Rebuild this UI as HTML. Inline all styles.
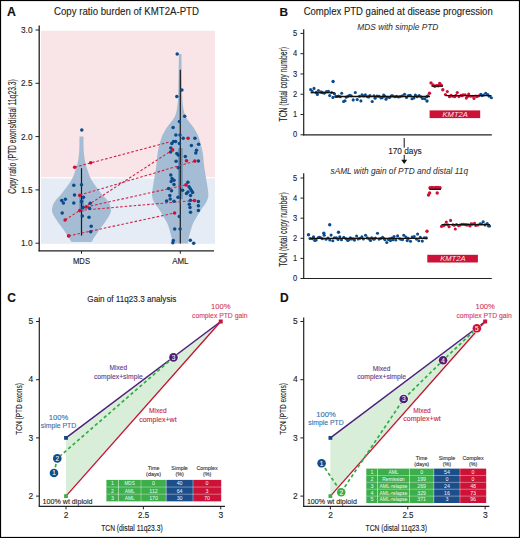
<!DOCTYPE html>
<html><head><meta charset="utf-8"><style>
html,body{margin:0;padding:0;background:#fff;}
svg{display:block;font-family:"Liberation Sans", sans-serif;}
</style></head><body>
<svg width="520" height="538" viewBox="0 0 520 538">
<rect x="0" y="0" width="520" height="538" fill="#fff"/>
<text x="7.0" y="16.3" font-size="12.3" text-anchor="start" fill="#111" font-weight="bold" font-style="normal" stroke="#111" stroke-width="0.12" >A</text>
<text x="126.5" y="14.7" font-size="11.5" text-anchor="middle" fill="#222" font-weight="normal" font-style="normal" textLength="145" lengthAdjust="spacingAndGlyphs" stroke="#222" stroke-width="0.12" >Copy ratio burden of KMT2A-PTD</text>
<rect x="41" y="30.8" width="174" height="146.4" fill="#f9e4e7"/>
<rect x="41" y="178.4" width="174" height="65.4" fill="#e5ecf5"/>
<line x1="39.2" y1="25.5" x2="39.2" y2="251.3" stroke="#222" stroke-width="1.3" />
<line x1="38.5" y1="250.8" x2="214" y2="250.8" stroke="#222" stroke-width="1.3" />
<line x1="35.5" y1="30.0" x2="39.2" y2="30.0" stroke="#222" stroke-width="1" />
<text x="32.5" y="32.9" font-size="8.2" text-anchor="end" fill="#222" font-weight="normal" font-style="normal" textLength="11.5" lengthAdjust="spacingAndGlyphs" stroke="#222" stroke-width="0.12" >3.0</text>
<line x1="35.5" y1="83.3" x2="39.2" y2="83.3" stroke="#222" stroke-width="1" />
<text x="32.5" y="86.2" font-size="8.2" text-anchor="end" fill="#222" font-weight="normal" font-style="normal" textLength="11.5" lengthAdjust="spacingAndGlyphs" stroke="#222" stroke-width="0.12" >2.5</text>
<line x1="35.5" y1="136.6" x2="39.2" y2="136.6" stroke="#222" stroke-width="1" />
<text x="32.5" y="139.5" font-size="8.2" text-anchor="end" fill="#222" font-weight="normal" font-style="normal" textLength="11.5" lengthAdjust="spacingAndGlyphs" stroke="#222" stroke-width="0.12" >2.0</text>
<line x1="35.5" y1="189.89999999999998" x2="39.2" y2="189.89999999999998" stroke="#222" stroke-width="1" />
<text x="32.5" y="192.79999999999998" font-size="8.2" text-anchor="end" fill="#222" font-weight="normal" font-style="normal" textLength="11.5" lengthAdjust="spacingAndGlyphs" stroke="#222" stroke-width="0.12" >1.5</text>
<line x1="35.5" y1="243.2" x2="39.2" y2="243.2" stroke="#222" stroke-width="1" />
<text x="32.5" y="246.1" font-size="8.2" text-anchor="end" fill="#222" font-weight="normal" font-style="normal" textLength="11.5" lengthAdjust="spacingAndGlyphs" stroke="#222" stroke-width="0.12" >1.0</text>
<line x1="81.5" y1="250.8" x2="81.5" y2="253.8" stroke="#222" stroke-width="1" />
<text x="81.5" y="263.6" font-size="8.4" text-anchor="middle" fill="#222" font-weight="normal" font-style="normal" textLength="17" lengthAdjust="spacingAndGlyphs" stroke="#222" stroke-width="0.12" >MDS</text>
<line x1="180.3" y1="250.8" x2="180.3" y2="253.8" stroke="#222" stroke-width="1" />
<text x="180.3" y="263.6" font-size="8.4" text-anchor="middle" fill="#222" font-weight="normal" font-style="normal" textLength="16.3" lengthAdjust="spacingAndGlyphs" stroke="#222" stroke-width="0.12" >AML</text>
<text transform="translate(15.9,136.4) rotate(-90)" x="0" y="0" font-size="10.2" text-anchor="middle" fill="#222" textLength="114.5" lengthAdjust="spacingAndGlyphs" stroke="#222" stroke-width="0.12">Copy ratio (PTD exons/distal 11q23.3)</text>
<path d="M 79.50 136.40 C 79.47 138.67 79.55 145.90 79.30 150.00 C 79.05 154.10 78.63 157.67 78.00 161.00 C 77.37 164.33 76.58 166.83 75.50 170.00 C 74.42 173.17 73.67 176.25 71.50 180.00 C 69.33 183.75 65.33 188.83 62.50 192.50 C 59.67 196.17 56.25 199.18 54.50 202.00 C 52.75 204.82 52.17 207.23 52.00 209.40 C 51.83 211.57 52.58 213.00 53.50 215.00 C 54.42 217.00 55.67 218.73 57.50 221.40 C 59.33 224.07 62.17 227.57 64.50 231.00 C 66.83 234.43 70.33 240.17 71.50 242.00 L 91.50 242.00 C 92.67 240.17 96.17 234.43 98.50 231.00 C 100.83 227.57 103.67 224.07 105.50 221.40 C 107.33 218.73 108.58 217.00 109.50 215.00 C 110.42 213.00 111.17 211.57 111.00 209.40 C 110.83 207.23 110.25 204.82 108.50 202.00 C 106.75 199.18 103.33 196.17 100.50 192.50 C 97.67 188.83 93.67 183.75 91.50 180.00 C 89.33 176.25 88.58 173.17 87.50 170.00 C 86.42 166.83 85.63 164.33 85.00 161.00 C 84.37 157.67 83.95 154.10 83.70 150.00 C 83.45 145.90 83.53 138.67 83.50 136.40 Z" fill="#a4bdd4"/>
<path d="M 179.00 54.00 C 178.95 56.67 178.83 63.00 178.70 70.00 C 178.57 77.00 178.42 90.00 178.20 96.00 C 177.98 102.00 177.80 103.00 177.40 106.00 C 177.00 109.00 176.58 111.67 175.80 114.00 C 175.02 116.33 173.88 118.17 172.70 120.00 C 171.52 121.83 170.03 123.17 168.70 125.00 C 167.37 126.83 165.95 128.75 164.70 131.00 C 163.45 133.25 162.35 135.00 161.20 138.50 C 160.05 142.00 158.60 147.58 157.80 152.00 C 157.00 156.42 157.00 160.50 156.40 165.00 C 155.80 169.50 154.83 175.00 154.20 179.00 C 153.57 183.00 152.93 186.05 152.60 189.00 C 152.27 191.95 151.82 194.28 152.20 196.70 C 152.58 199.12 153.65 201.25 154.90 203.50 C 156.15 205.75 158.23 207.97 159.70 210.20 C 161.17 212.43 162.42 214.67 163.70 216.90 C 164.98 219.13 166.40 221.35 167.40 223.60 C 168.40 225.85 169.02 228.15 169.70 230.40 C 170.38 232.65 171.03 234.93 171.50 237.10 C 171.97 239.27 172.33 242.35 172.50 243.40 L 187.90 243.40 C 188.07 242.35 188.43 239.27 188.90 237.10 C 189.37 234.93 190.02 232.65 190.70 230.40 C 191.38 228.15 192.00 225.85 193.00 223.60 C 194.00 221.35 195.42 219.13 196.70 216.90 C 197.98 214.67 199.23 212.43 200.70 210.20 C 202.17 207.97 204.25 205.75 205.50 203.50 C 206.75 201.25 207.82 199.12 208.20 196.70 C 208.58 194.28 208.13 191.95 207.80 189.00 C 207.47 186.05 206.83 183.00 206.20 179.00 C 205.57 175.00 204.60 169.50 204.00 165.00 C 203.40 160.50 203.40 156.42 202.60 152.00 C 201.80 147.58 200.35 142.00 199.20 138.50 C 198.05 135.00 196.95 133.25 195.70 131.00 C 194.45 128.75 193.03 126.83 191.70 125.00 C 190.37 123.17 188.88 121.83 187.70 120.00 C 186.52 118.17 185.38 116.33 184.60 114.00 C 183.82 111.67 183.40 109.00 183.00 106.00 C 182.60 103.00 182.42 102.00 182.20 96.00 C 181.98 90.00 181.83 77.00 181.70 70.00 C 181.57 63.00 181.45 56.67 181.40 54.00 Z" fill="#a4bdd4"/>
<rect x="79.3" y="197.3" width="4.6" height="14.5" fill="#6d94ba"/>
<rect x="178" y="148.1" width="4.7" height="51" fill="#6d94ba"/>
<line x1="81.5" y1="168.2" x2="81.5" y2="235.6" stroke="#1a1a1a" stroke-width="1.2" />
<line x1="180.3" y1="69.8" x2="180.3" y2="243.6" stroke="#1a1a1a" stroke-width="1.2" />
<line x1="74.7" y1="167.2" x2="170.5" y2="141.7" stroke="#cf2544" stroke-width="1.1" stroke-dasharray="2.6 1.9"/>
<line x1="65.1" y1="220" x2="172.6" y2="149.9" stroke="#cf2544" stroke-width="1.1" stroke-dasharray="2.6 1.9"/>
<line x1="79.8" y1="195.1" x2="194.8" y2="161.1" stroke="#cf2544" stroke-width="1.1" stroke-dasharray="2.6 1.9"/>
<line x1="79.8" y1="210.4" x2="194.5" y2="200.5" stroke="#cf2544" stroke-width="1.1" stroke-dasharray="2.6 1.9"/>
<line x1="68.6" y1="235.9" x2="174.6" y2="213" stroke="#cf2544" stroke-width="1.1" stroke-dasharray="2.6 1.9"/>
<line x1="86.2" y1="206.9" x2="186" y2="184.9" stroke="#cf2544" stroke-width="1.1" stroke-dasharray="2.6 1.9"/>
<circle cx="81.8" cy="130.1" r="1.75" fill="#0b4a8b"/>
<circle cx="73.8" cy="185.2" r="1.75" fill="#0b4a8b"/>
<circle cx="81.5" cy="184.7" r="1.75" fill="#0b4a8b"/>
<circle cx="74.5" cy="194.9" r="1.75" fill="#0b4a8b"/>
<circle cx="83.5" cy="197.3" r="1.75" fill="#0b4a8b"/>
<circle cx="61.7" cy="200.4" r="1.75" fill="#0b4a8b"/>
<circle cx="65.4" cy="199.2" r="1.75" fill="#0b4a8b"/>
<circle cx="63.4" cy="202.9" r="1.75" fill="#0b4a8b"/>
<circle cx="73.8" cy="202.9" r="1.75" fill="#0b4a8b"/>
<circle cx="81.5" cy="201.6" r="1.75" fill="#0b4a8b"/>
<circle cx="90.2" cy="203.3" r="1.75" fill="#0b4a8b"/>
<circle cx="89.5" cy="208.2" r="1.75" fill="#0b4a8b"/>
<circle cx="83.0" cy="207.4" r="1.75" fill="#0b4a8b"/>
<circle cx="62.2" cy="213.0" r="1.75" fill="#0b4a8b"/>
<circle cx="82.3" cy="216.1" r="1.75" fill="#0b4a8b"/>
<circle cx="89.0" cy="217.3" r="1.75" fill="#0b4a8b"/>
<circle cx="91.2" cy="226.3" r="1.75" fill="#0b4a8b"/>
<circle cx="90.7" cy="231.8" r="1.75" fill="#0b4a8b"/>
<circle cx="177.2" cy="54.0" r="1.75" fill="#0b4a8b"/>
<circle cx="181.9" cy="89.9" r="1.75" fill="#0b4a8b"/>
<circle cx="176.8" cy="96.4" r="1.75" fill="#0b4a8b"/>
<circle cx="184.7" cy="116.3" r="1.75" fill="#0b4a8b"/>
<circle cx="179.4" cy="121.5" r="1.75" fill="#0b4a8b"/>
<circle cx="173.1" cy="127.4" r="1.75" fill="#0b4a8b"/>
<circle cx="175.9" cy="134.9" r="1.75" fill="#0b4a8b"/>
<circle cx="180.0" cy="134.9" r="1.75" fill="#0b4a8b"/>
<circle cx="183.2" cy="138.2" r="1.75" fill="#0b4a8b"/>
<circle cx="194.9" cy="138.2" r="1.75" fill="#0b4a8b"/>
<circle cx="173.5" cy="141.5" r="1.75" fill="#0b4a8b"/>
<circle cx="171.8" cy="143.5" r="1.75" fill="#0b4a8b"/>
<circle cx="175.6" cy="141.6" r="1.75" fill="#0b4a8b"/>
<circle cx="179.4" cy="143.5" r="1.75" fill="#0b4a8b"/>
<circle cx="191.4" cy="145.6" r="1.75" fill="#0b4a8b"/>
<circle cx="198.6" cy="144.2" r="1.75" fill="#0b4a8b"/>
<circle cx="170.8" cy="148.0" r="1.75" fill="#0b4a8b"/>
<circle cx="196.5" cy="150.2" r="1.75" fill="#0b4a8b"/>
<circle cx="195.8" cy="153.0" r="1.75" fill="#0b4a8b"/>
<circle cx="170.6" cy="152.0" r="1.75" fill="#0b4a8b"/>
<circle cx="176.8" cy="153.6" r="1.75" fill="#0b4a8b"/>
<circle cx="178.2" cy="155.0" r="1.75" fill="#0b4a8b"/>
<circle cx="185.3" cy="156.6" r="1.75" fill="#0b4a8b"/>
<circle cx="176.1" cy="161.2" r="1.75" fill="#0b4a8b"/>
<circle cx="198.4" cy="161.0" r="1.75" fill="#0b4a8b"/>
<circle cx="178.2" cy="167.8" r="1.75" fill="#0b4a8b"/>
<circle cx="170.8" cy="175.0" r="1.75" fill="#0b4a8b"/>
<circle cx="172.0" cy="178.5" r="1.75" fill="#0b4a8b"/>
<circle cx="174.0" cy="180.3" r="1.75" fill="#0b4a8b"/>
<circle cx="171.2" cy="181.6" r="1.75" fill="#0b4a8b"/>
<circle cx="174.0" cy="184.5" r="1.75" fill="#0b4a8b"/>
<circle cx="187.9" cy="182.2" r="1.75" fill="#0b4a8b"/>
<circle cx="189.0" cy="186.7" r="1.75" fill="#0b4a8b"/>
<circle cx="190.3" cy="188.7" r="1.75" fill="#0b4a8b"/>
<circle cx="191.6" cy="190.7" r="1.75" fill="#0b4a8b"/>
<circle cx="192.6" cy="192.5" r="1.75" fill="#0b4a8b"/>
<circle cx="188.0" cy="192.0" r="1.75" fill="#0b4a8b"/>
<circle cx="169.8" cy="195.6" r="1.75" fill="#0b4a8b"/>
<circle cx="170.2" cy="199.0" r="1.75" fill="#0b4a8b"/>
<circle cx="178.0" cy="197.3" r="1.75" fill="#0b4a8b"/>
<circle cx="186.5" cy="193.6" r="1.75" fill="#0b4a8b"/>
<circle cx="190.5" cy="195.5" r="1.75" fill="#0b4a8b"/>
<circle cx="166.6" cy="201.0" r="1.75" fill="#0b4a8b"/>
<circle cx="174.0" cy="201.2" r="1.75" fill="#0b4a8b"/>
<circle cx="190.5" cy="200.3" r="1.75" fill="#0b4a8b"/>
<circle cx="189.3" cy="204.2" r="1.75" fill="#0b4a8b"/>
<circle cx="198.4" cy="201.6" r="1.75" fill="#0b4a8b"/>
<circle cx="198.4" cy="205.8" r="1.75" fill="#0b4a8b"/>
<circle cx="190.0" cy="207.4" r="1.75" fill="#0b4a8b"/>
<circle cx="198.4" cy="210.4" r="1.75" fill="#0b4a8b"/>
<circle cx="190.5" cy="212.3" r="1.75" fill="#0b4a8b"/>
<circle cx="179.3" cy="216.6" r="1.75" fill="#0b4a8b"/>
<circle cx="174.7" cy="228.9" r="1.75" fill="#0b4a8b"/>
<circle cx="180.1" cy="228.9" r="1.75" fill="#0b4a8b"/>
<circle cx="173.3" cy="240.5" r="1.75" fill="#0b4a8b"/>
<circle cx="172.8" cy="242.8" r="1.75" fill="#0b4a8b"/>
<circle cx="190.3" cy="240.2" r="1.75" fill="#0b4a8b"/>
<circle cx="193.7" cy="243.3" r="1.75" fill="#0b4a8b"/>
<circle cx="171.5" cy="190.8" r="1.75" fill="#0b4a8b"/>
<circle cx="168.6" cy="188.5" r="1.75" fill="#0b4a8b"/>
<circle cx="182.6" cy="190.2" r="1.75" fill="#0b4a8b"/>
<circle cx="74.7" cy="167.2" r="1.8" fill="#d10f35"/>
<circle cx="90.7" cy="162.7" r="1.8" fill="#d10f35"/>
<circle cx="79.8" cy="195.4" r="1.8" fill="#d10f35"/>
<circle cx="86.2" cy="206.9" r="1.8" fill="#d10f35"/>
<circle cx="79.8" cy="210.6" r="1.8" fill="#d10f35"/>
<circle cx="65.1" cy="220.0" r="1.8" fill="#d10f35"/>
<circle cx="68.6" cy="235.9" r="1.8" fill="#d10f35"/>
<circle cx="188.1" cy="138.2" r="1.8" fill="#d10f35"/>
<circle cx="172.6" cy="149.9" r="1.8" fill="#d10f35"/>
<circle cx="186.5" cy="160.7" r="1.8" fill="#d10f35"/>
<circle cx="194.8" cy="161.1" r="1.8" fill="#d10f35"/>
<circle cx="186.0" cy="184.9" r="1.8" fill="#d10f35"/>
<circle cx="194.5" cy="200.5" r="1.8" fill="#d10f35"/>
<circle cx="174.6" cy="213.0" r="1.8" fill="#d10f35"/>
<text x="279.6" y="16.2" font-size="11.8" text-anchor="start" fill="#111" font-weight="bold" font-style="normal" stroke="#111" stroke-width="0.12" >B</text>
<text x="398.2" y="14.7" font-size="11.5" text-anchor="middle" fill="#222" font-weight="normal" font-style="normal" textLength="189" lengthAdjust="spacingAndGlyphs" stroke="#222" stroke-width="0.12" >Complex PTD gained at disease progression</text>
<text x="397.85" y="29.8" font-size="8.5" text-anchor="middle" fill="#333" font-weight="normal" font-style="italic" textLength="81" lengthAdjust="spacingAndGlyphs" stroke="#333" stroke-width="0.05" >MDS with simple PTD</text>
<text x="399.25" y="173.6" font-size="8.5" text-anchor="middle" fill="#333" font-weight="normal" font-style="italic" textLength="137.5" lengthAdjust="spacingAndGlyphs" stroke="#333" stroke-width="0.05" >sAML with gain of PTD and distal 11q</text>
<line x1="303.7" y1="29.2" x2="303.7" y2="135.4" stroke="#222" stroke-width="1.2" />
<line x1="303.3" y1="134.8" x2="491.8" y2="134.8" stroke="#222" stroke-width="1.2" />
<line x1="300.5" y1="134.8" x2="303.7" y2="134.8" stroke="#222" stroke-width="1" />
<text x="297.2" y="137.4" font-size="8.4" text-anchor="end" fill="#222" font-weight="normal" font-style="normal" textLength="4.2" lengthAdjust="spacingAndGlyphs" stroke="#222" stroke-width="0.12" >0</text>
<line x1="300.5" y1="114.52000000000001" x2="303.7" y2="114.52000000000001" stroke="#222" stroke-width="1" />
<text x="297.2" y="117.12" font-size="8.4" text-anchor="end" fill="#222" font-weight="normal" font-style="normal" textLength="4.2" lengthAdjust="spacingAndGlyphs" stroke="#222" stroke-width="0.12" >1</text>
<line x1="300.5" y1="94.24000000000001" x2="303.7" y2="94.24000000000001" stroke="#222" stroke-width="1" />
<text x="297.2" y="96.84" font-size="8.4" text-anchor="end" fill="#222" font-weight="normal" font-style="normal" textLength="4.2" lengthAdjust="spacingAndGlyphs" stroke="#222" stroke-width="0.12" >2</text>
<line x1="300.5" y1="73.96000000000001" x2="303.7" y2="73.96000000000001" stroke="#222" stroke-width="1" />
<text x="297.2" y="76.56" font-size="8.4" text-anchor="end" fill="#222" font-weight="normal" font-style="normal" textLength="4.2" lengthAdjust="spacingAndGlyphs" stroke="#222" stroke-width="0.12" >3</text>
<line x1="300.5" y1="53.68000000000001" x2="303.7" y2="53.68000000000001" stroke="#222" stroke-width="1" />
<text x="297.2" y="56.28000000000001" font-size="8.4" text-anchor="end" fill="#222" font-weight="normal" font-style="normal" textLength="4.2" lengthAdjust="spacingAndGlyphs" stroke="#222" stroke-width="0.12" >4</text>
<line x1="300.5" y1="33.400000000000006" x2="303.7" y2="33.400000000000006" stroke="#222" stroke-width="1" />
<text x="297.2" y="36.00000000000001" font-size="8.4" text-anchor="end" fill="#222" font-weight="normal" font-style="normal" textLength="4.2" lengthAdjust="spacingAndGlyphs" stroke="#222" stroke-width="0.12" >5</text>
<text transform="translate(287.4,84.25) rotate(-90)" x="0" y="0" font-size="10.4" text-anchor="middle" fill="#222" textLength="74.5" lengthAdjust="spacingAndGlyphs" stroke="#222" stroke-width="0.12">TCN (total copy number)</text>
<circle cx="310.6" cy="89.5" r="1.55" fill="#0b4a8b"/>
<circle cx="312.2" cy="91.4" r="1.55" fill="#0b4a8b"/>
<circle cx="314.0" cy="88.4" r="1.55" fill="#0b4a8b"/>
<circle cx="316.0" cy="92.4" r="1.55" fill="#0b4a8b"/>
<circle cx="317.4" cy="94.4" r="1.55" fill="#0b4a8b"/>
<circle cx="318.4" cy="90.5" r="1.55" fill="#0b4a8b"/>
<circle cx="320.7" cy="92.0" r="1.55" fill="#0b4a8b"/>
<circle cx="321.7" cy="92.1" r="1.55" fill="#0b4a8b"/>
<circle cx="322.8" cy="92.7" r="1.55" fill="#0b4a8b"/>
<circle cx="324.4" cy="93.1" r="1.55" fill="#0b4a8b"/>
<circle cx="326.5" cy="91.6" r="1.55" fill="#0b4a8b"/>
<circle cx="328.4" cy="91.3" r="1.55" fill="#0b4a8b"/>
<circle cx="329.7" cy="95.6" r="1.55" fill="#0b4a8b"/>
<circle cx="331.6" cy="92.5" r="1.55" fill="#0b4a8b"/>
<circle cx="332.9" cy="97.4" r="1.55" fill="#0b4a8b"/>
<circle cx="334.5" cy="93.8" r="1.55" fill="#0b4a8b"/>
<circle cx="335.6" cy="96.5" r="1.55" fill="#0b4a8b"/>
<circle cx="336.9" cy="96.5" r="1.55" fill="#0b4a8b"/>
<circle cx="338.5" cy="96.1" r="1.55" fill="#0b4a8b"/>
<circle cx="340.3" cy="96.8" r="1.55" fill="#0b4a8b"/>
<circle cx="341.7" cy="93.2" r="1.55" fill="#0b4a8b"/>
<circle cx="343.6" cy="101.5" r="1.55" fill="#0b4a8b"/>
<circle cx="345.0" cy="100.8" r="1.55" fill="#0b4a8b"/>
<circle cx="346.2" cy="97.3" r="1.55" fill="#0b4a8b"/>
<circle cx="347.8" cy="96.3" r="1.55" fill="#0b4a8b"/>
<circle cx="349.6" cy="95.2" r="1.55" fill="#0b4a8b"/>
<circle cx="351.2" cy="95.7" r="1.55" fill="#0b4a8b"/>
<circle cx="353.2" cy="99.9" r="1.55" fill="#0b4a8b"/>
<circle cx="355.3" cy="92.5" r="1.55" fill="#0b4a8b"/>
<circle cx="357.2" cy="99.6" r="1.55" fill="#0b4a8b"/>
<circle cx="359.5" cy="96.3" r="1.55" fill="#0b4a8b"/>
<circle cx="360.9" cy="100.9" r="1.55" fill="#0b4a8b"/>
<circle cx="362.0" cy="94.8" r="1.55" fill="#0b4a8b"/>
<circle cx="363.8" cy="96.0" r="1.55" fill="#0b4a8b"/>
<circle cx="365.4" cy="94.8" r="1.55" fill="#0b4a8b"/>
<circle cx="367.5" cy="96.8" r="1.55" fill="#0b4a8b"/>
<circle cx="368.7" cy="96.9" r="1.55" fill="#0b4a8b"/>
<circle cx="369.9" cy="95.6" r="1.55" fill="#0b4a8b"/>
<circle cx="372.2" cy="101.5" r="1.55" fill="#0b4a8b"/>
<circle cx="373.9" cy="95.7" r="1.55" fill="#0b4a8b"/>
<circle cx="375.1" cy="98.3" r="1.55" fill="#0b4a8b"/>
<circle cx="377.0" cy="96.1" r="1.55" fill="#0b4a8b"/>
<circle cx="379.1" cy="96.3" r="1.55" fill="#0b4a8b"/>
<circle cx="381.0" cy="98.0" r="1.55" fill="#0b4a8b"/>
<circle cx="382.3" cy="97.6" r="1.55" fill="#0b4a8b"/>
<circle cx="383.7" cy="95.1" r="1.55" fill="#0b4a8b"/>
<circle cx="384.9" cy="96.2" r="1.55" fill="#0b4a8b"/>
<circle cx="386.0" cy="99.3" r="1.55" fill="#0b4a8b"/>
<circle cx="387.5" cy="97.3" r="1.55" fill="#0b4a8b"/>
<circle cx="389.6" cy="97.4" r="1.55" fill="#0b4a8b"/>
<circle cx="391.5" cy="95.9" r="1.55" fill="#0b4a8b"/>
<circle cx="392.5" cy="95.8" r="1.55" fill="#0b4a8b"/>
<circle cx="394.7" cy="96.8" r="1.55" fill="#0b4a8b"/>
<circle cx="396.6" cy="96.4" r="1.55" fill="#0b4a8b"/>
<circle cx="398.5" cy="97.0" r="1.55" fill="#0b4a8b"/>
<circle cx="400.2" cy="96.5" r="1.55" fill="#0b4a8b"/>
<circle cx="402.4" cy="95.8" r="1.55" fill="#0b4a8b"/>
<circle cx="404.6" cy="94.3" r="1.55" fill="#0b4a8b"/>
<circle cx="406.5" cy="97.4" r="1.55" fill="#0b4a8b"/>
<circle cx="408.5" cy="95.5" r="1.55" fill="#0b4a8b"/>
<circle cx="410.2" cy="95.2" r="1.55" fill="#0b4a8b"/>
<circle cx="412.0" cy="98.8" r="1.55" fill="#0b4a8b"/>
<circle cx="413.9" cy="98.0" r="1.55" fill="#0b4a8b"/>
<circle cx="415.4" cy="95.1" r="1.55" fill="#0b4a8b"/>
<circle cx="417.1" cy="96.8" r="1.55" fill="#0b4a8b"/>
<circle cx="419.1" cy="95.6" r="1.55" fill="#0b4a8b"/>
<circle cx="420.9" cy="96.7" r="1.55" fill="#0b4a8b"/>
<circle cx="422.5" cy="98.5" r="1.55" fill="#0b4a8b"/>
<circle cx="424.7" cy="98.7" r="1.55" fill="#0b4a8b"/>
<circle cx="426.6" cy="96.7" r="1.55" fill="#0b4a8b"/>
<circle cx="427.8" cy="95.8" r="1.55" fill="#0b4a8b"/>
<circle cx="445.4" cy="94.5" r="1.55" fill="#d10f35"/>
<circle cx="447.3" cy="91.5" r="1.55" fill="#d10f35"/>
<circle cx="449.5" cy="96.7" r="1.55" fill="#d10f35"/>
<circle cx="451.0" cy="95.4" r="1.55" fill="#d10f35"/>
<circle cx="452.6" cy="96.3" r="1.55" fill="#d10f35"/>
<circle cx="454.7" cy="96.7" r="1.55" fill="#d10f35"/>
<circle cx="455.9" cy="95.4" r="1.55" fill="#d10f35"/>
<circle cx="457.3" cy="92.6" r="1.55" fill="#d10f35"/>
<circle cx="458.9" cy="96.6" r="1.55" fill="#d10f35"/>
<circle cx="461.0" cy="95.2" r="1.55" fill="#d10f35"/>
<circle cx="462.1" cy="95.8" r="1.55" fill="#d10f35"/>
<circle cx="463.1" cy="94.7" r="1.55" fill="#d10f35"/>
<circle cx="465.1" cy="94.8" r="1.55" fill="#d10f35"/>
<circle cx="466.3" cy="98.1" r="1.55" fill="#d10f35"/>
<circle cx="467.6" cy="96.4" r="1.55" fill="#d10f35"/>
<circle cx="468.7" cy="94.0" r="1.55" fill="#d10f35"/>
<circle cx="470.5" cy="96.3" r="1.55" fill="#d10f35"/>
<circle cx="472.8" cy="96.2" r="1.55" fill="#d10f35"/>
<circle cx="474.0" cy="98.5" r="1.55" fill="#d10f35"/>
<circle cx="475.6" cy="96.1" r="1.55" fill="#d10f35"/>
<circle cx="477.1" cy="96.6" r="1.55" fill="#d10f35"/>
<circle cx="478.8" cy="95.7" r="1.55" fill="#d10f35"/>
<circle cx="480.8" cy="94.4" r="1.55" fill="#0b4a8b"/>
<circle cx="481.9" cy="95.6" r="1.55" fill="#0b4a8b"/>
<circle cx="483.5" cy="95.0" r="1.55" fill="#0b4a8b"/>
<circle cx="485.7" cy="93.3" r="1.55" fill="#0b4a8b"/>
<circle cx="487.7" cy="94.6" r="1.55" fill="#0b4a8b"/>
<circle cx="489.3" cy="96.3" r="1.55" fill="#0b4a8b"/>
<circle cx="491.4" cy="97.7" r="1.55" fill="#0b4a8b"/>
<circle cx="333.1" cy="81.5" r="1.7" fill="#0b4a8b"/>
<circle cx="427.0" cy="101.0" r="1.7" fill="#0b4a8b"/>
<circle cx="429.5" cy="93.2" r="1.7" fill="#d10f35"/>
<circle cx="431.0" cy="82.9" r="1.7" fill="#d10f35"/>
<circle cx="433.0" cy="85.0" r="1.7" fill="#d10f35"/>
<circle cx="434.8" cy="86.2" r="1.7" fill="#d10f35"/>
<circle cx="436.6" cy="85.6" r="1.7" fill="#d10f35"/>
<circle cx="438.2" cy="85.8" r="1.7" fill="#d10f35"/>
<circle cx="439.7" cy="83.4" r="1.7" fill="#d10f35"/>
<circle cx="441.2" cy="85.2" r="1.7" fill="#d10f35"/>
<circle cx="442.8" cy="89.8" r="1.7" fill="#d10f35"/>
<line x1="310.6" y1="92.7" x2="334.6" y2="92.7" stroke="#111" stroke-width="1.3" />
<line x1="335.6" y1="96.5" x2="430" y2="96.5" stroke="#111" stroke-width="1.3" />
<line x1="431.5" y1="86.1" x2="443" y2="86.1" stroke="#111" stroke-width="1.3" />
<line x1="445.4" y1="95.7" x2="491.5" y2="95.7" stroke="#111" stroke-width="1.3" />
<rect x="429.6" y="110.4" width="50.6" height="7.7" fill="#cc1236"/>
<text x="455.20000000000005" y="116.60000000000001" font-size="7.2" text-anchor="middle" fill="rgba(255,255,255,0.9)" font-weight="normal" font-style="italic" textLength="25.5" lengthAdjust="spacingAndGlyphs" >KMT2A</text>
<line x1="404.2" y1="138" x2="404.2" y2="147.7" stroke="#111" stroke-width="1" />
<text x="404.9" y="153.8" font-size="8.8" text-anchor="middle" fill="#222" font-weight="normal" font-style="normal" textLength="33.5" lengthAdjust="spacingAndGlyphs" stroke="#222" stroke-width="0.12" >170 days</text>
<line x1="404.2" y1="154.8" x2="404.2" y2="160.5" stroke="#111" stroke-width="1" />
<path d="M 401.2 159.8 L 407.2 159.8 L 404.2 164 Z" fill="#111"/>
<line x1="303.7" y1="173.3" x2="303.7" y2="279.1" stroke="#222" stroke-width="1.2" />
<line x1="303.3" y1="278.5" x2="491.8" y2="278.5" stroke="#222" stroke-width="1.2" />
<line x1="300.5" y1="278.5" x2="303.7" y2="278.5" stroke="#222" stroke-width="1" />
<text x="297.2" y="281.1" font-size="8.4" text-anchor="end" fill="#222" font-weight="normal" font-style="normal" textLength="4.2" lengthAdjust="spacingAndGlyphs" stroke="#222" stroke-width="0.12" >0</text>
<line x1="300.5" y1="258.4" x2="303.7" y2="258.4" stroke="#222" stroke-width="1" />
<text x="297.2" y="261.0" font-size="8.4" text-anchor="end" fill="#222" font-weight="normal" font-style="normal" textLength="4.2" lengthAdjust="spacingAndGlyphs" stroke="#222" stroke-width="0.12" >1</text>
<line x1="300.5" y1="238.3" x2="303.7" y2="238.3" stroke="#222" stroke-width="1" />
<text x="297.2" y="240.9" font-size="8.4" text-anchor="end" fill="#222" font-weight="normal" font-style="normal" textLength="4.2" lengthAdjust="spacingAndGlyphs" stroke="#222" stroke-width="0.12" >2</text>
<line x1="300.5" y1="218.2" x2="303.7" y2="218.2" stroke="#222" stroke-width="1" />
<text x="297.2" y="220.79999999999998" font-size="8.4" text-anchor="end" fill="#222" font-weight="normal" font-style="normal" textLength="4.2" lengthAdjust="spacingAndGlyphs" stroke="#222" stroke-width="0.12" >3</text>
<line x1="300.5" y1="198.1" x2="303.7" y2="198.1" stroke="#222" stroke-width="1" />
<text x="297.2" y="200.7" font-size="8.4" text-anchor="end" fill="#222" font-weight="normal" font-style="normal" textLength="4.2" lengthAdjust="spacingAndGlyphs" stroke="#222" stroke-width="0.12" >4</text>
<line x1="300.5" y1="178.0" x2="303.7" y2="178.0" stroke="#222" stroke-width="1" />
<text x="297.2" y="180.6" font-size="8.4" text-anchor="end" fill="#222" font-weight="normal" font-style="normal" textLength="4.2" lengthAdjust="spacingAndGlyphs" stroke="#222" stroke-width="0.12" >5</text>
<text transform="translate(287.4,229.6) rotate(-90)" x="0" y="0" font-size="10.4" text-anchor="middle" fill="#222" textLength="74.5" lengthAdjust="spacingAndGlyphs" stroke="#222" stroke-width="0.12">TCN (total copy number)</text>
<circle cx="310.0" cy="238.5" r="1.55" fill="#0b4a8b"/>
<circle cx="312.3" cy="238.7" r="1.55" fill="#0b4a8b"/>
<circle cx="313.5" cy="236.9" r="1.55" fill="#0b4a8b"/>
<circle cx="314.8" cy="240.4" r="1.55" fill="#0b4a8b"/>
<circle cx="316.2" cy="240.0" r="1.55" fill="#0b4a8b"/>
<circle cx="318.4" cy="237.5" r="1.55" fill="#0b4a8b"/>
<circle cx="319.4" cy="237.4" r="1.55" fill="#0b4a8b"/>
<circle cx="320.7" cy="237.7" r="1.55" fill="#0b4a8b"/>
<circle cx="322.4" cy="238.8" r="1.55" fill="#0b4a8b"/>
<circle cx="324.2" cy="235.3" r="1.55" fill="#0b4a8b"/>
<circle cx="326.0" cy="239.3" r="1.55" fill="#0b4a8b"/>
<circle cx="328.0" cy="238.0" r="1.55" fill="#0b4a8b"/>
<circle cx="329.8" cy="239.9" r="1.55" fill="#0b4a8b"/>
<circle cx="331.1" cy="235.1" r="1.55" fill="#0b4a8b"/>
<circle cx="332.8" cy="240.8" r="1.55" fill="#0b4a8b"/>
<circle cx="334.4" cy="237.7" r="1.55" fill="#0b4a8b"/>
<circle cx="336.3" cy="237.9" r="1.55" fill="#0b4a8b"/>
<circle cx="338.1" cy="239.4" r="1.55" fill="#0b4a8b"/>
<circle cx="339.8" cy="236.7" r="1.55" fill="#0b4a8b"/>
<circle cx="341.5" cy="239.8" r="1.55" fill="#0b4a8b"/>
<circle cx="343.8" cy="237.2" r="1.55" fill="#0b4a8b"/>
<circle cx="346.0" cy="238.8" r="1.55" fill="#0b4a8b"/>
<circle cx="347.7" cy="240.4" r="1.55" fill="#0b4a8b"/>
<circle cx="348.9" cy="239.8" r="1.55" fill="#0b4a8b"/>
<circle cx="350.4" cy="237.8" r="1.55" fill="#0b4a8b"/>
<circle cx="351.4" cy="238.9" r="1.55" fill="#0b4a8b"/>
<circle cx="353.4" cy="238.9" r="1.55" fill="#0b4a8b"/>
<circle cx="354.5" cy="240.1" r="1.55" fill="#0b4a8b"/>
<circle cx="356.6" cy="236.0" r="1.55" fill="#0b4a8b"/>
<circle cx="358.2" cy="238.9" r="1.55" fill="#0b4a8b"/>
<circle cx="360.0" cy="238.2" r="1.55" fill="#0b4a8b"/>
<circle cx="361.9" cy="236.9" r="1.55" fill="#0b4a8b"/>
<circle cx="363.4" cy="239.0" r="1.55" fill="#0b4a8b"/>
<circle cx="365.6" cy="235.3" r="1.55" fill="#0b4a8b"/>
<circle cx="367.3" cy="237.9" r="1.55" fill="#0b4a8b"/>
<circle cx="369.2" cy="238.9" r="1.55" fill="#0b4a8b"/>
<circle cx="370.5" cy="240.5" r="1.55" fill="#0b4a8b"/>
<circle cx="371.7" cy="237.8" r="1.55" fill="#0b4a8b"/>
<circle cx="373.0" cy="238.7" r="1.55" fill="#0b4a8b"/>
<circle cx="374.1" cy="239.2" r="1.55" fill="#0b4a8b"/>
<circle cx="375.4" cy="238.0" r="1.55" fill="#0b4a8b"/>
<circle cx="377.5" cy="233.3" r="1.55" fill="#0b4a8b"/>
<circle cx="379.0" cy="239.1" r="1.55" fill="#0b4a8b"/>
<circle cx="380.6" cy="238.5" r="1.55" fill="#0b4a8b"/>
<circle cx="382.6" cy="237.4" r="1.55" fill="#0b4a8b"/>
<circle cx="383.9" cy="238.5" r="1.55" fill="#0b4a8b"/>
<circle cx="385.0" cy="239.7" r="1.55" fill="#0b4a8b"/>
<circle cx="386.8" cy="242.5" r="1.55" fill="#0b4a8b"/>
<circle cx="388.5" cy="239.6" r="1.55" fill="#0b4a8b"/>
<circle cx="389.5" cy="238.7" r="1.55" fill="#0b4a8b"/>
<circle cx="390.5" cy="240.6" r="1.55" fill="#0b4a8b"/>
<circle cx="391.8" cy="238.1" r="1.55" fill="#0b4a8b"/>
<circle cx="393.0" cy="239.8" r="1.55" fill="#0b4a8b"/>
<circle cx="394.0" cy="236.6" r="1.55" fill="#0b4a8b"/>
<circle cx="395.8" cy="239.9" r="1.55" fill="#0b4a8b"/>
<circle cx="397.6" cy="235.9" r="1.55" fill="#0b4a8b"/>
<circle cx="399.7" cy="238.7" r="1.55" fill="#0b4a8b"/>
<circle cx="400.9" cy="239.2" r="1.55" fill="#0b4a8b"/>
<circle cx="402.5" cy="239.6" r="1.55" fill="#0b4a8b"/>
<circle cx="403.8" cy="235.3" r="1.55" fill="#0b4a8b"/>
<circle cx="405.9" cy="237.0" r="1.55" fill="#0b4a8b"/>
<circle cx="407.2" cy="240.6" r="1.55" fill="#0b4a8b"/>
<circle cx="408.2" cy="238.4" r="1.55" fill="#0b4a8b"/>
<circle cx="410.5" cy="241.2" r="1.55" fill="#0b4a8b"/>
<circle cx="412.2" cy="237.1" r="1.55" fill="#0b4a8b"/>
<circle cx="414.2" cy="236.6" r="1.55" fill="#0b4a8b"/>
<circle cx="416.5" cy="239.1" r="1.55" fill="#0b4a8b"/>
<circle cx="417.6" cy="234.1" r="1.55" fill="#0b4a8b"/>
<circle cx="418.8" cy="240.7" r="1.55" fill="#0b4a8b"/>
<circle cx="420.3" cy="237.3" r="1.55" fill="#0b4a8b"/>
<circle cx="422.3" cy="241.1" r="1.55" fill="#0b4a8b"/>
<circle cx="424.3" cy="237.8" r="1.55" fill="#0b4a8b"/>
<circle cx="426.3" cy="237.9" r="1.55" fill="#0b4a8b"/>
<circle cx="441.5" cy="226.4" r="1.55" fill="#d10f35"/>
<circle cx="443.7" cy="225.6" r="1.55" fill="#d10f35"/>
<circle cx="444.8" cy="224.8" r="1.55" fill="#d10f35"/>
<circle cx="446.3" cy="222.1" r="1.55" fill="#d10f35"/>
<circle cx="447.7" cy="224.8" r="1.55" fill="#d10f35"/>
<circle cx="449.1" cy="226.8" r="1.55" fill="#d10f35"/>
<circle cx="450.6" cy="220.4" r="1.55" fill="#d10f35"/>
<circle cx="452.9" cy="224.7" r="1.55" fill="#d10f35"/>
<circle cx="454.2" cy="225.2" r="1.55" fill="#d10f35"/>
<circle cx="455.3" cy="229.0" r="1.55" fill="#d10f35"/>
<circle cx="456.5" cy="224.5" r="1.55" fill="#d10f35"/>
<circle cx="458.5" cy="225.6" r="1.55" fill="#d10f35"/>
<circle cx="460.0" cy="225.1" r="1.55" fill="#d10f35"/>
<circle cx="461.8" cy="224.3" r="1.55" fill="#d10f35"/>
<circle cx="463.7" cy="224.3" r="1.55" fill="#d10f35"/>
<circle cx="465.5" cy="224.6" r="1.55" fill="#d10f35"/>
<circle cx="466.7" cy="224.9" r="1.55" fill="#d10f35"/>
<circle cx="468.2" cy="224.9" r="1.55" fill="#d10f35"/>
<circle cx="470.1" cy="225.9" r="1.55" fill="#d10f35"/>
<circle cx="471.1" cy="223.7" r="1.55" fill="#d10f35"/>
<circle cx="472.4" cy="224.1" r="1.55" fill="#d10f35"/>
<circle cx="474.6" cy="223.4" r="1.55" fill="#d10f35"/>
<circle cx="475.8" cy="225.5" r="1.55" fill="#d10f35"/>
<circle cx="478.0" cy="225.0" r="1.55" fill="#d10f35"/>
<circle cx="480.2" cy="223.8" r="1.55" fill="#0b4a8b"/>
<circle cx="481.5" cy="224.0" r="1.55" fill="#0b4a8b"/>
<circle cx="483.2" cy="221.8" r="1.55" fill="#0b4a8b"/>
<circle cx="485.0" cy="224.9" r="1.55" fill="#0b4a8b"/>
<circle cx="487.2" cy="223.5" r="1.55" fill="#0b4a8b"/>
<circle cx="488.5" cy="226.0" r="1.55" fill="#0b4a8b"/>
<circle cx="489.6" cy="226.0" r="1.55" fill="#0b4a8b"/>
<circle cx="329.7" cy="224.7" r="1.7" fill="#0b4a8b"/>
<circle cx="323.8" cy="233.2" r="1.7" fill="#0b4a8b"/>
<circle cx="338.5" cy="232.2" r="1.7" fill="#0b4a8b"/>
<circle cx="308.5" cy="234.7" r="1.7" fill="#0b4a8b"/>
<circle cx="427.0" cy="231.2" r="1.7" fill="#d10f35"/>
<circle cx="430.0" cy="187.7" r="1.7" fill="#d10f35"/>
<circle cx="432.0" cy="187.4" r="1.7" fill="#d10f35"/>
<circle cx="434.0" cy="187.8" r="1.7" fill="#d10f35"/>
<circle cx="436.0" cy="187.5" r="1.7" fill="#d10f35"/>
<circle cx="438.0" cy="187.4" r="1.7" fill="#d10f35"/>
<circle cx="440.0" cy="187.8" r="1.7" fill="#d10f35"/>
<circle cx="428.5" cy="195.0" r="1.7" fill="#d10f35"/>
<circle cx="429.6" cy="193.0" r="1.7" fill="#d10f35"/>
<circle cx="437.2" cy="193.0" r="1.7" fill="#d10f35"/>
<line x1="310" y1="238.3" x2="427.3" y2="238.3" stroke="#111" stroke-width="1.3" />
<line x1="429.3" y1="189.3" x2="441" y2="189.3" stroke="#111" stroke-width="1.3" />
<line x1="441.5" y1="224.6" x2="490" y2="224.6" stroke="#111" stroke-width="1.3" />
<rect x="427.3" y="254.8" width="50.6" height="7.7" fill="#cc1236"/>
<text x="452.90000000000003" y="261.0" font-size="7.2" text-anchor="middle" fill="rgba(255,255,255,0.9)" font-weight="normal" font-style="italic" textLength="25.5" lengthAdjust="spacingAndGlyphs" >KMT2A</text>
<text x="7.3" y="301.6" font-size="12" text-anchor="start" fill="#111" font-weight="bold" font-style="normal" stroke="#111" stroke-width="0.12" >C</text>
<text x="131.85" y="301.8" font-size="8.6" text-anchor="middle" fill="#222" font-weight="normal" font-style="normal" textLength="89" lengthAdjust="spacingAndGlyphs" stroke="#222" stroke-width="0.12" >Gain of 11q23.3 analysis</text>
<line x1="39.3" y1="317.5" x2="39.3" y2="506.6" stroke="#222" stroke-width="1.2" />
<line x1="38.7" y1="506.3" x2="225" y2="506.3" stroke="#222" stroke-width="1.2" />
<line x1="36" y1="321.5" x2="39.3" y2="321.5" stroke="#222" stroke-width="1" />
<text x="33.2" y="324.1" font-size="9.4" text-anchor="end" fill="#222" font-weight="normal" font-style="normal" textLength="4.7" lengthAdjust="spacingAndGlyphs" stroke="#222" stroke-width="0.12" >5</text>
<line x1="36" y1="379.70000000000005" x2="39.3" y2="379.70000000000005" stroke="#222" stroke-width="1" />
<text x="33.2" y="382.30000000000007" font-size="9.4" text-anchor="end" fill="#222" font-weight="normal" font-style="normal" textLength="4.7" lengthAdjust="spacingAndGlyphs" stroke="#222" stroke-width="0.12" >4</text>
<line x1="36" y1="437.90000000000003" x2="39.3" y2="437.90000000000003" stroke="#222" stroke-width="1" />
<text x="33.2" y="440.50000000000006" font-size="9.4" text-anchor="end" fill="#222" font-weight="normal" font-style="normal" textLength="4.7" lengthAdjust="spacingAndGlyphs" stroke="#222" stroke-width="0.12" >3</text>
<line x1="36" y1="496.1" x2="39.3" y2="496.1" stroke="#222" stroke-width="1" />
<text x="33.2" y="498.70000000000005" font-size="9.4" text-anchor="end" fill="#222" font-weight="normal" font-style="normal" textLength="4.7" lengthAdjust="spacingAndGlyphs" stroke="#222" stroke-width="0.12" >2</text>
<line x1="66.0" y1="506.3" x2="66.0" y2="509.4" stroke="#222" stroke-width="1" />
<text x="66.2" y="518.1" font-size="8.6" text-anchor="middle" fill="#222" font-weight="normal" font-style="normal" textLength="4.7" lengthAdjust="spacingAndGlyphs" stroke="#222" stroke-width="0.12" >2</text>
<line x1="143.375" y1="506.3" x2="143.375" y2="509.4" stroke="#222" stroke-width="1" />
<text x="143.575" y="518.1" font-size="8.6" text-anchor="middle" fill="#222" font-weight="normal" font-style="normal" textLength="11.1" lengthAdjust="spacingAndGlyphs" stroke="#222" stroke-width="0.12" >2.5</text>
<line x1="220.75" y1="506.3" x2="220.75" y2="509.4" stroke="#222" stroke-width="1" />
<text x="220.95" y="518.1" font-size="8.6" text-anchor="middle" fill="#222" font-weight="normal" font-style="normal" textLength="4.7" lengthAdjust="spacingAndGlyphs" stroke="#222" stroke-width="0.12" >3</text>
<text transform="translate(21.7,408.9) rotate(-90)" x="0" y="0" font-size="8.8" text-anchor="middle" fill="#222" textLength="51.5" lengthAdjust="spacingAndGlyphs" stroke="#222" stroke-width="0.12">TCN (PTD exons)</text>
<text x="131.95" y="530.9" font-size="9.6" text-anchor="middle" fill="#222" font-weight="normal" font-style="normal" textLength="61.5" lengthAdjust="spacingAndGlyphs" stroke="#222" stroke-width="0.15" >TCN (distal 11q23.3)</text>
<path d="M 66.0 437.90000000000003 L 220.75 321.5 L 66.0 496.1 Z" fill="#d8eed9"/>
<line x1="66.0" y1="437.90000000000003" x2="220.75" y2="321.5" stroke="#4f2079" stroke-width="1.5" />
<line x1="66.0" y1="496.1" x2="220.75" y2="321.5" stroke="#c4112f" stroke-width="1.3" />
<rect x="64.1" y="436.00000000000006" width="3.8" height="3.8" fill="#124682"/>
<rect x="64.1" y="494.20000000000005" width="3.8" height="3.8" fill="#3cae4a"/>
<rect x="218.75" y="319.5" width="4" height="4" fill="#c8163a"/>
<text x="220.75" y="309.2" font-size="7.6" text-anchor="middle" fill="#d33b5e" font-weight="normal" font-style="normal" stroke="#d33b5e" stroke-width="0.12" >100%</text>
<text x="219.75" y="317.7" font-size="7.6" text-anchor="middle" fill="#d33b5e" font-weight="normal" font-style="normal" textLength="55.5" lengthAdjust="spacingAndGlyphs" stroke="#d33b5e" stroke-width="0.12" >complex PTD gain</text>
<text x="67.5" y="504.4" font-size="7.6" text-anchor="middle" fill="#222" font-weight="normal" font-style="normal" textLength="50" lengthAdjust="spacingAndGlyphs" stroke="#222" stroke-width="0.12" >100% wt diploid</text>
<text x="58.5" y="420" font-size="7.6" text-anchor="middle" fill="#3a6ea8" font-weight="normal" font-style="normal" stroke="#3a6ea8" stroke-width="0.12" >100%</text>
<text x="58.5" y="428.2" font-size="7.6" text-anchor="middle" fill="#3a6ea8" font-weight="normal" font-style="normal" textLength="35.5" lengthAdjust="spacingAndGlyphs" stroke="#3a6ea8" stroke-width="0.12" >simple PTD</text>
<text x="118.3" y="370.3" font-size="7.6" text-anchor="middle" fill="#643889" font-weight="normal" font-style="normal" textLength="17.6" lengthAdjust="spacingAndGlyphs" stroke="#643889" stroke-width="0.12" >Mixed</text>
<text x="118.3" y="378.8" font-size="7.6" text-anchor="middle" fill="#643889" font-weight="normal" font-style="normal" textLength="48.8" lengthAdjust="spacingAndGlyphs" stroke="#643889" stroke-width="0.12" >complex+simple</text>
<text x="157.9" y="412.6" font-size="7.6" text-anchor="middle" fill="#cb1f43" font-weight="normal" font-style="normal" textLength="17.6" lengthAdjust="spacingAndGlyphs" stroke="#cb1f43" stroke-width="0.12" >Mixed</text>
<text x="157.9" y="421.5" font-size="7.6" text-anchor="middle" fill="#cb1f43" font-weight="normal" font-style="normal" textLength="37.5" lengthAdjust="spacingAndGlyphs" stroke="#cb1f43" stroke-width="0.12" >complex+wt</text>
<path d="M 54 473 L 57.3 458.4 L 173.5 357.4" fill="none" stroke="#33ad44" stroke-width="1.7" stroke-dasharray="3.3 2.6"/>
<circle cx="54" cy="473" r="4.9" fill="rgba(255,255,255,0.75)"/>
<circle cx="54" cy="473" r="4.3" fill="#0f4d8c"/>
<text x="54" y="475.35" font-size="6.5" text-anchor="middle" fill="rgba(255,255,255,0.9)" font-weight="normal" font-style="normal" stroke="rgba(255,255,255,0.9)" stroke-width="0.15" >1</text>
<circle cx="57.3" cy="458.4" r="4.9" fill="rgba(255,255,255,0.75)"/>
<circle cx="57.3" cy="458.4" r="4.3" fill="#0f4d8c"/>
<text x="57.3" y="460.75" font-size="6.5" text-anchor="middle" fill="rgba(255,255,255,0.9)" font-weight="normal" font-style="normal" stroke="rgba(255,255,255,0.9)" stroke-width="0.15" >2</text>
<circle cx="173.5" cy="357.4" r="4.9" fill="rgba(255,255,255,0.75)"/>
<circle cx="173.5" cy="357.4" r="4.3" fill="#4e1d74"/>
<text x="173.5" y="359.75" font-size="6.5" text-anchor="middle" fill="rgba(255,255,255,0.9)" font-weight="normal" font-style="normal" stroke="rgba(255,255,255,0.9)" stroke-width="0.15" >3</text>
<text x="153.6" y="470.09999999999997" font-size="5.4" text-anchor="middle" fill="#333" font-weight="normal" font-style="normal" stroke="#333" stroke-width="0.12" >Time</text>
<text x="153.6" y="475.9" font-size="5.4" text-anchor="middle" fill="#333" font-weight="normal" font-style="normal" stroke="#333" stroke-width="0.12" >(days)</text>
<text x="179.6" y="470.09999999999997" font-size="5.4" text-anchor="middle" fill="#333" font-weight="normal" font-style="normal" stroke="#333" stroke-width="0.12" >Simple</text>
<text x="179.6" y="475.9" font-size="5.4" text-anchor="middle" fill="#333" font-weight="normal" font-style="normal" stroke="#333" stroke-width="0.12" >(%)</text>
<text x="207.1" y="470.09999999999997" font-size="5.4" text-anchor="middle" fill="#333" font-weight="normal" font-style="normal" stroke="#333" stroke-width="0.12" >Complex</text>
<text x="207.1" y="475.9" font-size="5.4" text-anchor="middle" fill="#333" font-weight="normal" font-style="normal" stroke="#333" stroke-width="0.12" >(%)</text>
<rect x="106.4" y="479.9" width="12.0" height="21.450000000000003" fill="#3cae4a"/>
<rect x="118.4" y="479.9" width="22.599999999999994" height="21.450000000000003" fill="#3cae4a"/>
<rect x="141" y="479.9" width="25.19999999999999" height="21.450000000000003" fill="#3cae4a"/>
<rect x="166.2" y="479.9" width="26.80000000000001" height="21.450000000000003" fill="#1c4f8a"/>
<rect x="193" y="479.9" width="28.19999999999999" height="21.450000000000003" fill="#cc1236"/>
<line x1="106.4" y1="487.04999999999995" x2="221.2" y2="487.04999999999995" stroke="rgba(255,255,255,0.55)" stroke-width="0.7" />
<line x1="106.4" y1="494.2" x2="221.2" y2="494.2" stroke="rgba(255,255,255,0.55)" stroke-width="0.7" />
<line x1="118.4" y1="479.9" x2="118.4" y2="501.34999999999997" stroke="rgba(255,255,255,0.55)" stroke-width="0.7" />
<line x1="141" y1="479.9" x2="141" y2="501.34999999999997" stroke="rgba(255,255,255,0.55)" stroke-width="0.7" />
<line x1="166.2" y1="479.9" x2="166.2" y2="501.34999999999997" stroke="rgba(255,255,255,0.55)" stroke-width="0.7" />
<line x1="193" y1="479.9" x2="193" y2="501.34999999999997" stroke="rgba(255,255,255,0.55)" stroke-width="0.7" />
<text x="112.4" y="485.37499999999994" font-size="5.3" text-anchor="middle" fill="rgba(255,255,255,0.88)" font-weight="normal" font-style="normal" stroke="rgba(255,255,255,0.88)" stroke-width="0.06" >1</text>
<text x="129.7" y="485.37499999999994" font-size="5.3" text-anchor="middle" fill="rgba(255,255,255,0.88)" font-weight="normal" font-style="normal" textLength="10.5" lengthAdjust="spacingAndGlyphs" stroke="rgba(255,255,255,0.88)" stroke-width="0.06" >MDS</text>
<text x="153.6" y="485.37499999999994" font-size="5.3" text-anchor="middle" fill="rgba(255,255,255,0.88)" font-weight="normal" font-style="normal" stroke="rgba(255,255,255,0.88)" stroke-width="0.06" >0</text>
<text x="179.6" y="485.37499999999994" font-size="5.3" text-anchor="middle" fill="rgba(255,255,255,0.88)" font-weight="normal" font-style="normal" stroke="rgba(255,255,255,0.88)" stroke-width="0.06" >40</text>
<text x="207.1" y="485.37499999999994" font-size="5.3" text-anchor="middle" fill="rgba(255,255,255,0.88)" font-weight="normal" font-style="normal" stroke="rgba(255,255,255,0.88)" stroke-width="0.06" >0</text>
<text x="112.4" y="492.5249999999999" font-size="5.3" text-anchor="middle" fill="rgba(255,255,255,0.88)" font-weight="normal" font-style="normal" stroke="rgba(255,255,255,0.88)" stroke-width="0.06" >2</text>
<text x="129.7" y="492.5249999999999" font-size="5.3" text-anchor="middle" fill="rgba(255,255,255,0.88)" font-weight="normal" font-style="normal" textLength="10" lengthAdjust="spacingAndGlyphs" stroke="rgba(255,255,255,0.88)" stroke-width="0.06" >AML</text>
<text x="153.6" y="492.5249999999999" font-size="5.3" text-anchor="middle" fill="rgba(255,255,255,0.88)" font-weight="normal" font-style="normal" stroke="rgba(255,255,255,0.88)" stroke-width="0.06" >112</text>
<text x="179.6" y="492.5249999999999" font-size="5.3" text-anchor="middle" fill="rgba(255,255,255,0.88)" font-weight="normal" font-style="normal" stroke="rgba(255,255,255,0.88)" stroke-width="0.06" >64</text>
<text x="207.1" y="492.5249999999999" font-size="5.3" text-anchor="middle" fill="rgba(255,255,255,0.88)" font-weight="normal" font-style="normal" stroke="rgba(255,255,255,0.88)" stroke-width="0.06" >3</text>
<text x="112.4" y="499.67499999999995" font-size="5.3" text-anchor="middle" fill="rgba(255,255,255,0.88)" font-weight="normal" font-style="normal" stroke="rgba(255,255,255,0.88)" stroke-width="0.06" >3</text>
<text x="129.7" y="499.67499999999995" font-size="5.3" text-anchor="middle" fill="rgba(255,255,255,0.88)" font-weight="normal" font-style="normal" textLength="10" lengthAdjust="spacingAndGlyphs" stroke="rgba(255,255,255,0.88)" stroke-width="0.06" >AML</text>
<text x="153.6" y="499.67499999999995" font-size="5.3" text-anchor="middle" fill="rgba(255,255,255,0.88)" font-weight="normal" font-style="normal" stroke="rgba(255,255,255,0.88)" stroke-width="0.06" >170</text>
<text x="179.6" y="499.67499999999995" font-size="5.3" text-anchor="middle" fill="rgba(255,255,255,0.88)" font-weight="normal" font-style="normal" stroke="rgba(255,255,255,0.88)" stroke-width="0.06" >30</text>
<text x="207.1" y="499.67499999999995" font-size="5.3" text-anchor="middle" fill="rgba(255,255,255,0.88)" font-weight="normal" font-style="normal" stroke="rgba(255,255,255,0.88)" stroke-width="0.06" >70</text>
<text x="280.0" y="301.6" font-size="12" text-anchor="start" fill="#111" font-weight="bold" font-style="normal" stroke="#111" stroke-width="0.12" >D</text>
<line x1="303.7" y1="317.5" x2="303.7" y2="506.6" stroke="#222" stroke-width="1.2" />
<line x1="303.09999999999997" y1="506.3" x2="489.4" y2="506.3" stroke="#222" stroke-width="1.2" />
<line x1="300.4" y1="321.5" x2="303.7" y2="321.5" stroke="#222" stroke-width="1" />
<text x="297.59999999999997" y="324.1" font-size="9.4" text-anchor="end" fill="#222" font-weight="normal" font-style="normal" textLength="4.7" lengthAdjust="spacingAndGlyphs" stroke="#222" stroke-width="0.12" >5</text>
<line x1="300.4" y1="379.70000000000005" x2="303.7" y2="379.70000000000005" stroke="#222" stroke-width="1" />
<text x="297.59999999999997" y="382.30000000000007" font-size="9.4" text-anchor="end" fill="#222" font-weight="normal" font-style="normal" textLength="4.7" lengthAdjust="spacingAndGlyphs" stroke="#222" stroke-width="0.12" >4</text>
<line x1="300.4" y1="437.90000000000003" x2="303.7" y2="437.90000000000003" stroke="#222" stroke-width="1" />
<text x="297.59999999999997" y="440.50000000000006" font-size="9.4" text-anchor="end" fill="#222" font-weight="normal" font-style="normal" textLength="4.7" lengthAdjust="spacingAndGlyphs" stroke="#222" stroke-width="0.12" >3</text>
<line x1="300.4" y1="496.1" x2="303.7" y2="496.1" stroke="#222" stroke-width="1" />
<text x="297.59999999999997" y="498.70000000000005" font-size="9.4" text-anchor="end" fill="#222" font-weight="normal" font-style="normal" textLength="4.7" lengthAdjust="spacingAndGlyphs" stroke="#222" stroke-width="0.12" >2</text>
<line x1="330.4" y1="506.3" x2="330.4" y2="509.4" stroke="#222" stroke-width="1" />
<text x="330.59999999999997" y="518.1" font-size="8.6" text-anchor="middle" fill="#222" font-weight="normal" font-style="normal" textLength="4.7" lengthAdjust="spacingAndGlyphs" stroke="#222" stroke-width="0.12" >2</text>
<line x1="407.775" y1="506.3" x2="407.775" y2="509.4" stroke="#222" stroke-width="1" />
<text x="407.97499999999997" y="518.1" font-size="8.6" text-anchor="middle" fill="#222" font-weight="normal" font-style="normal" textLength="11.1" lengthAdjust="spacingAndGlyphs" stroke="#222" stroke-width="0.12" >2.5</text>
<line x1="485.15" y1="506.3" x2="485.15" y2="509.4" stroke="#222" stroke-width="1" />
<text x="485.34999999999997" y="518.1" font-size="8.6" text-anchor="middle" fill="#222" font-weight="normal" font-style="normal" textLength="4.7" lengthAdjust="spacingAndGlyphs" stroke="#222" stroke-width="0.12" >3</text>
<text transform="translate(286.09999999999997,408.9) rotate(-90)" x="0" y="0" font-size="8.8" text-anchor="middle" fill="#222" textLength="51.5" lengthAdjust="spacingAndGlyphs" stroke="#222" stroke-width="0.12">TCN (PTD exons)</text>
<text x="396.34999999999997" y="530.9" font-size="9.6" text-anchor="middle" fill="#222" font-weight="normal" font-style="normal" textLength="61.5" lengthAdjust="spacingAndGlyphs" stroke="#222" stroke-width="0.15" >TCN (distal 11q23.3)</text>
<path d="M 330.4 437.90000000000003 L 485.15 321.5 L 330.4 496.1 Z" fill="#d8eed9"/>
<line x1="330.4" y1="437.90000000000003" x2="485.15" y2="321.5" stroke="#4f2079" stroke-width="1.5" />
<line x1="330.4" y1="496.1" x2="485.15" y2="321.5" stroke="#c4112f" stroke-width="1.3" />
<rect x="328.5" y="436.00000000000006" width="3.8" height="3.8" fill="#124682"/>
<rect x="328.5" y="494.20000000000005" width="3.8" height="3.8" fill="#3cae4a"/>
<rect x="483.15" y="319.5" width="4" height="4" fill="#c8163a"/>
<text x="485.15" y="309.2" font-size="7.6" text-anchor="middle" fill="#d33b5e" font-weight="normal" font-style="normal" stroke="#d33b5e" stroke-width="0.12" >100%</text>
<text x="484.15" y="317.7" font-size="7.6" text-anchor="middle" fill="#d33b5e" font-weight="normal" font-style="normal" textLength="55.5" lengthAdjust="spacingAndGlyphs" stroke="#d33b5e" stroke-width="0.12" >complex PTD gain</text>
<text x="331.9" y="504.4" font-size="7.6" text-anchor="middle" fill="#222" font-weight="normal" font-style="normal" textLength="50" lengthAdjust="spacingAndGlyphs" stroke="#222" stroke-width="0.12" >100% wt diploid</text>
<text x="326" y="416.8" font-size="7.6" text-anchor="middle" fill="#3a6ea8" font-weight="normal" font-style="normal" stroke="#3a6ea8" stroke-width="0.12" >100%</text>
<text x="326" y="424.9" font-size="7.6" text-anchor="middle" fill="#3a6ea8" font-weight="normal" font-style="normal" textLength="35.5" lengthAdjust="spacingAndGlyphs" stroke="#3a6ea8" stroke-width="0.12" >simple PTD</text>
<text x="381.6" y="371" font-size="7.6" text-anchor="middle" fill="#643889" font-weight="normal" font-style="normal" textLength="17.6" lengthAdjust="spacingAndGlyphs" stroke="#643889" stroke-width="0.12" >Mixed</text>
<text x="381.6" y="379" font-size="7.6" text-anchor="middle" fill="#643889" font-weight="normal" font-style="normal" textLength="48.8" lengthAdjust="spacingAndGlyphs" stroke="#643889" stroke-width="0.12" >complex+simple</text>
<text x="422" y="412.5" font-size="7.6" text-anchor="middle" fill="#cb1f43" font-weight="normal" font-style="normal" textLength="17.6" lengthAdjust="spacingAndGlyphs" stroke="#cb1f43" stroke-width="0.12" >Mixed</text>
<text x="422" y="420.5" font-size="7.6" text-anchor="middle" fill="#cb1f43" font-weight="normal" font-style="normal" textLength="37.5" lengthAdjust="spacingAndGlyphs" stroke="#cb1f43" stroke-width="0.12" >complex+wt</text>
<path d="M 321.6 463.2 L 341.2 492.2 L 403.7 399 L 443.1 360.3 L 476.9 328.2" fill="none" stroke="#33ad44" stroke-width="1.7" stroke-dasharray="3.3 2.6"/>
<circle cx="321.6" cy="463.2" r="4.9" fill="rgba(255,255,255,0.75)"/>
<circle cx="321.6" cy="463.2" r="4.3" fill="#0f4d8c"/>
<text x="321.6" y="465.55" font-size="6.5" text-anchor="middle" fill="rgba(255,255,255,0.9)" font-weight="normal" font-style="normal" stroke="rgba(255,255,255,0.9)" stroke-width="0.15" >1</text>
<circle cx="341.2" cy="492.2" r="4.9" fill="rgba(255,255,255,0.75)"/>
<circle cx="341.2" cy="492.2" r="4.3" fill="#3cae4a"/>
<text x="341.2" y="494.55" font-size="6.5" text-anchor="middle" fill="rgba(255,255,255,0.9)" font-weight="normal" font-style="normal" stroke="rgba(255,255,255,0.9)" stroke-width="0.15" >2</text>
<circle cx="403.7" cy="399" r="4.9" fill="rgba(255,255,255,0.75)"/>
<circle cx="403.7" cy="399" r="4.3" fill="#4e1d74"/>
<text x="403.7" y="401.35" font-size="6.5" text-anchor="middle" fill="rgba(255,255,255,0.9)" font-weight="normal" font-style="normal" stroke="rgba(255,255,255,0.9)" stroke-width="0.15" >3</text>
<circle cx="443.1" cy="360.3" r="4.9" fill="rgba(255,255,255,0.75)"/>
<circle cx="443.1" cy="360.3" r="4.3" fill="#4e1d74"/>
<text x="443.1" y="362.65000000000003" font-size="6.5" text-anchor="middle" fill="rgba(255,255,255,0.9)" font-weight="normal" font-style="normal" stroke="rgba(255,255,255,0.9)" stroke-width="0.15" >4</text>
<circle cx="476.9" cy="328.2" r="4.9" fill="rgba(255,255,255,0.75)"/>
<circle cx="476.9" cy="328.2" r="4.3" fill="#cc1236"/>
<text x="476.9" y="330.55" font-size="6.5" text-anchor="middle" fill="rgba(255,255,255,0.9)" font-weight="normal" font-style="normal" stroke="rgba(255,255,255,0.9)" stroke-width="0.15" >5</text>
<text x="421.65" y="460.3" font-size="5.4" text-anchor="middle" fill="#333" font-weight="normal" font-style="normal" stroke="#333" stroke-width="0.12" >Time</text>
<text x="421.65" y="466.0" font-size="5.4" text-anchor="middle" fill="#333" font-weight="normal" font-style="normal" stroke="#333" stroke-width="0.12" >(days)</text>
<text x="446.9" y="460.3" font-size="5.4" text-anchor="middle" fill="#333" font-weight="normal" font-style="normal" stroke="#333" stroke-width="0.12" >Simple</text>
<text x="446.9" y="466.0" font-size="5.4" text-anchor="middle" fill="#333" font-weight="normal" font-style="normal" stroke="#333" stroke-width="0.12" >(%)</text>
<text x="473.1" y="460.3" font-size="5.4" text-anchor="middle" fill="#333" font-weight="normal" font-style="normal" stroke="#333" stroke-width="0.12" >Complex</text>
<text x="473.1" y="466.0" font-size="5.4" text-anchor="middle" fill="#333" font-weight="normal" font-style="normal" stroke="#333" stroke-width="0.12" >(%)</text>
<rect x="366.3" y="468.6" width="11.199999999999989" height="34.4" fill="#3cae4a"/>
<rect x="377.5" y="468.6" width="32.0" height="34.4" fill="#3cae4a"/>
<rect x="409.5" y="468.6" width="24.30000000000001" height="34.4" fill="#3cae4a"/>
<rect x="433.8" y="468.6" width="26.19999999999999" height="34.4" fill="#1c4f8a"/>
<rect x="460" y="468.6" width="26.19999999999999" height="34.4" fill="#cc1236"/>
<line x1="366.3" y1="475.48" x2="486.2" y2="475.48" stroke="rgba(255,255,255,0.55)" stroke-width="0.7" />
<line x1="366.3" y1="482.36" x2="486.2" y2="482.36" stroke="rgba(255,255,255,0.55)" stroke-width="0.7" />
<line x1="366.3" y1="489.24" x2="486.2" y2="489.24" stroke="rgba(255,255,255,0.55)" stroke-width="0.7" />
<line x1="366.3" y1="496.12" x2="486.2" y2="496.12" stroke="rgba(255,255,255,0.55)" stroke-width="0.7" />
<line x1="377.5" y1="468.6" x2="377.5" y2="503.0" stroke="rgba(255,255,255,0.55)" stroke-width="0.7" />
<line x1="409.5" y1="468.6" x2="409.5" y2="503.0" stroke="rgba(255,255,255,0.55)" stroke-width="0.7" />
<line x1="433.8" y1="468.6" x2="433.8" y2="503.0" stroke="rgba(255,255,255,0.55)" stroke-width="0.7" />
<line x1="460" y1="468.6" x2="460" y2="503.0" stroke="rgba(255,255,255,0.55)" stroke-width="0.7" />
<text x="371.9" y="473.94" font-size="5.3" text-anchor="middle" fill="rgba(255,255,255,0.88)" font-weight="normal" font-style="normal" stroke="rgba(255,255,255,0.88)" stroke-width="0.06" >1</text>
<text x="393.5" y="473.94" font-size="5.3" text-anchor="middle" fill="rgba(255,255,255,0.88)" font-weight="normal" font-style="normal" textLength="10" lengthAdjust="spacingAndGlyphs" stroke="rgba(255,255,255,0.88)" stroke-width="0.06" >AML</text>
<text x="421.65" y="473.94" font-size="5.3" text-anchor="middle" fill="rgba(255,255,255,0.88)" font-weight="normal" font-style="normal" stroke="rgba(255,255,255,0.88)" stroke-width="0.06" >0</text>
<text x="446.9" y="473.94" font-size="5.3" text-anchor="middle" fill="rgba(255,255,255,0.88)" font-weight="normal" font-style="normal" stroke="rgba(255,255,255,0.88)" stroke-width="0.06" >54</text>
<text x="473.1" y="473.94" font-size="5.3" text-anchor="middle" fill="rgba(255,255,255,0.88)" font-weight="normal" font-style="normal" stroke="rgba(255,255,255,0.88)" stroke-width="0.06" >0</text>
<text x="371.9" y="480.82" font-size="5.3" text-anchor="middle" fill="rgba(255,255,255,0.88)" font-weight="normal" font-style="normal" stroke="rgba(255,255,255,0.88)" stroke-width="0.06" >2</text>
<text x="393.5" y="480.82" font-size="5.3" text-anchor="middle" fill="rgba(255,255,255,0.88)" font-weight="normal" font-style="normal" textLength="22.5" lengthAdjust="spacingAndGlyphs" stroke="rgba(255,255,255,0.88)" stroke-width="0.06" >Remission</text>
<text x="421.65" y="480.82" font-size="5.3" text-anchor="middle" fill="rgba(255,255,255,0.88)" font-weight="normal" font-style="normal" stroke="rgba(255,255,255,0.88)" stroke-width="0.06" >199</text>
<text x="446.9" y="480.82" font-size="5.3" text-anchor="middle" fill="rgba(255,255,255,0.88)" font-weight="normal" font-style="normal" stroke="rgba(255,255,255,0.88)" stroke-width="0.06" >0</text>
<text x="473.1" y="480.82" font-size="5.3" text-anchor="middle" fill="rgba(255,255,255,0.88)" font-weight="normal" font-style="normal" stroke="rgba(255,255,255,0.88)" stroke-width="0.06" >0</text>
<text x="371.9" y="487.7" font-size="5.3" text-anchor="middle" fill="rgba(255,255,255,0.88)" font-weight="normal" font-style="normal" stroke="rgba(255,255,255,0.88)" stroke-width="0.06" >3</text>
<text x="393.5" y="487.7" font-size="5.3" text-anchor="middle" fill="rgba(255,255,255,0.88)" font-weight="normal" font-style="normal" textLength="27.8" lengthAdjust="spacingAndGlyphs" stroke="rgba(255,255,255,0.88)" stroke-width="0.06" >AML-relapse</text>
<text x="421.65" y="487.7" font-size="5.3" text-anchor="middle" fill="rgba(255,255,255,0.88)" font-weight="normal" font-style="normal" stroke="rgba(255,255,255,0.88)" stroke-width="0.06" >269</text>
<text x="446.9" y="487.7" font-size="5.3" text-anchor="middle" fill="rgba(255,255,255,0.88)" font-weight="normal" font-style="normal" stroke="rgba(255,255,255,0.88)" stroke-width="0.06" >24</text>
<text x="473.1" y="487.7" font-size="5.3" text-anchor="middle" fill="rgba(255,255,255,0.88)" font-weight="normal" font-style="normal" stroke="rgba(255,255,255,0.88)" stroke-width="0.06" >48</text>
<text x="371.9" y="494.58" font-size="5.3" text-anchor="middle" fill="rgba(255,255,255,0.88)" font-weight="normal" font-style="normal" stroke="rgba(255,255,255,0.88)" stroke-width="0.06" >4</text>
<text x="393.5" y="494.58" font-size="5.3" text-anchor="middle" fill="rgba(255,255,255,0.88)" font-weight="normal" font-style="normal" textLength="27.8" lengthAdjust="spacingAndGlyphs" stroke="rgba(255,255,255,0.88)" stroke-width="0.06" >AML-relapse</text>
<text x="421.65" y="494.58" font-size="5.3" text-anchor="middle" fill="rgba(255,255,255,0.88)" font-weight="normal" font-style="normal" stroke="rgba(255,255,255,0.88)" stroke-width="0.06" >329</text>
<text x="446.9" y="494.58" font-size="5.3" text-anchor="middle" fill="rgba(255,255,255,0.88)" font-weight="normal" font-style="normal" stroke="rgba(255,255,255,0.88)" stroke-width="0.06" >16</text>
<text x="473.1" y="494.58" font-size="5.3" text-anchor="middle" fill="rgba(255,255,255,0.88)" font-weight="normal" font-style="normal" stroke="rgba(255,255,255,0.88)" stroke-width="0.06" >73</text>
<text x="371.9" y="501.46" font-size="5.3" text-anchor="middle" fill="rgba(255,255,255,0.88)" font-weight="normal" font-style="normal" stroke="rgba(255,255,255,0.88)" stroke-width="0.06" >5</text>
<text x="393.5" y="501.46" font-size="5.3" text-anchor="middle" fill="rgba(255,255,255,0.88)" font-weight="normal" font-style="normal" textLength="27.8" lengthAdjust="spacingAndGlyphs" stroke="rgba(255,255,255,0.88)" stroke-width="0.06" >AML-relapse</text>
<text x="421.65" y="501.46" font-size="5.3" text-anchor="middle" fill="rgba(255,255,255,0.88)" font-weight="normal" font-style="normal" stroke="rgba(255,255,255,0.88)" stroke-width="0.06" >371</text>
<text x="446.9" y="501.46" font-size="5.3" text-anchor="middle" fill="rgba(255,255,255,0.88)" font-weight="normal" font-style="normal" stroke="rgba(255,255,255,0.88)" stroke-width="0.06" >3</text>
<text x="473.1" y="501.46" font-size="5.3" text-anchor="middle" fill="rgba(255,255,255,0.88)" font-weight="normal" font-style="normal" stroke="rgba(255,255,255,0.88)" stroke-width="0.06" >96</text>
<rect x="0.5" y="0.5" width="519" height="537" fill="none" stroke="#000" stroke-width="1.2"/>
</svg>
</body></html>
